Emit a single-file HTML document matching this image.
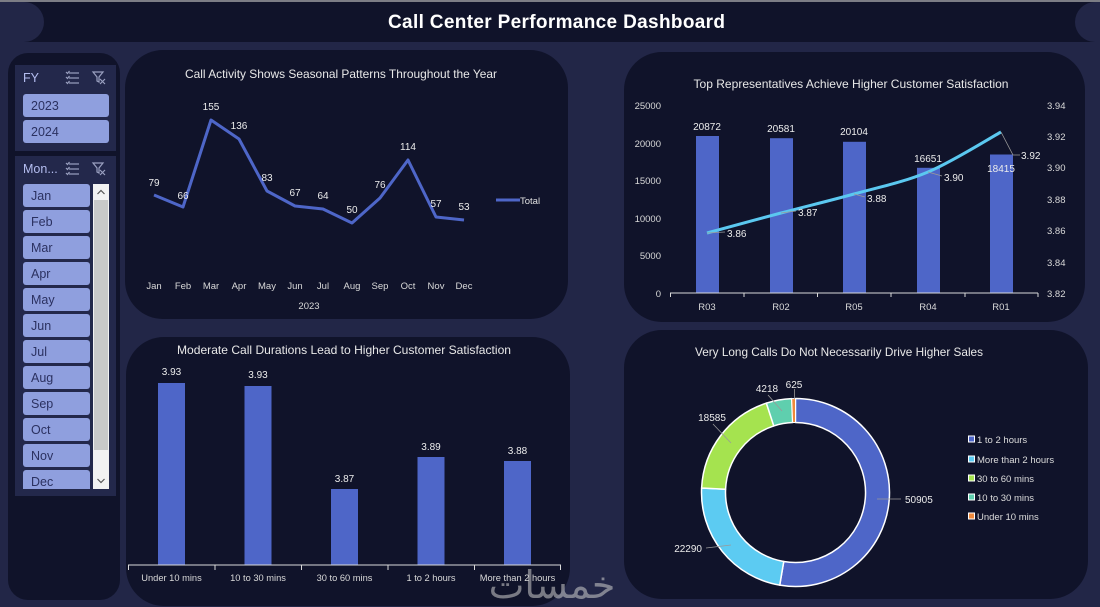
<!DOCTYPE html>
<html><head><meta charset="utf-8"><style>
html,body{margin:0;padding:0;background:#222647;}
svg{display:block;}
text{font-family:"Liberation Sans","DejaVu Sans",sans-serif;}
</style></head><body>
<svg width="1100" height="607" viewBox="0 0 1100 607" xmlns="http://www.w3.org/2000/svg">
<rect x="0" y="0" width="1100" height="607" fill="#222647"/>
<!-- top strip -->
<rect x="0" y="0" width="1100" height="2" fill="#7c7d85"/>
<!-- title bar -->
<rect x="0" y="2" width="1100" height="40" fill="#10132a"/>
<rect x="-20" y="2" width="64" height="40" rx="20" fill="#222647"/>
<rect x="1075" y="2" width="60" height="40" rx="20" fill="#222647"/>
<text x="556.5" y="28" text-anchor="middle" font-size="19" font-weight="bold" fill="#ffffff" textLength="337" lengthAdjust="spacing">Call Center Performance Dashboard</text>

<!-- left slicer panel -->
<rect x="8" y="53" width="112" height="547" rx="20" fill="#10132a"/>
<rect x="15" y="65" width="101" height="86" fill="#23284b"/>
<text x="23" y="82" font-size="12.5" fill="#b4bdf0">FY</text>
<g stroke="#9aa0c0" stroke-width="1.2" fill="none">
<line x1="69" y1="73" x2="79" y2="73"/><line x1="69" y1="78" x2="79" y2="78"/><line x1="69" y1="83" x2="79" y2="83"/>
<path d="M66 72 l1.5 1.5 l2 -2.5"/><path d="M66 77 l1.5 1.5 l2 -2.5"/><path d="M66 82 l1.5 1.5 l2 -2.5"/>
<path d="M93 72 h10 l-4 5 v5 l-2 -1 v-4 z"/><path d="M100 79 l5 5 M105 79 l-5 5"/>
</g>
<rect x="23" y="94" width="86" height="23" rx="3" fill="#8f9fde"/>
<text x="31" y="110" font-size="12.5" fill="#2b3160">2023</text>
<rect x="23" y="120" width="86" height="23" rx="3" fill="#8f9fde"/>
<text x="31" y="136" font-size="12.5" fill="#2b3160">2024</text>

<rect x="15" y="156" width="101" height="340" fill="#23284b"/>
<text x="23" y="173" font-size="12.5" fill="#b4bdf0">Mon...</text>
<g stroke="#9aa0c0" stroke-width="1.2" fill="none">
<line x1="69" y1="164" x2="79" y2="164"/><line x1="69" y1="169" x2="79" y2="169"/><line x1="69" y1="174" x2="79" y2="174"/>
<path d="M66 163 l1.5 1.5 l2 -2.5"/><path d="M66 168 l1.5 1.5 l2 -2.5"/><path d="M66 173 l1.5 1.5 l2 -2.5"/>
<path d="M93 163 h10 l-4 5 v5 l-2 -1 v-4 z"/><path d="M100 170 l5 5 M105 170 l-5 5"/>
</g>
<svg x="23" y="184" width="70" height="305" overflow="hidden">
<g font-size="12.5" fill="#2b3160">
<rect x="0" y="0" width="67" height="23" rx="3" fill="#8f9fde"/><text x="8" y="16">Jan</text>
<rect x="0" y="26" width="67" height="23" rx="3" fill="#8f9fde"/><text x="8" y="42">Feb</text>
<rect x="0" y="52" width="67" height="23" rx="3" fill="#8f9fde"/><text x="8" y="68">Mar</text>
<rect x="0" y="78" width="67" height="23" rx="3" fill="#8f9fde"/><text x="8" y="94">Apr</text>
<rect x="0" y="104" width="67" height="23" rx="3" fill="#8f9fde"/><text x="8" y="120">May</text>
<rect x="0" y="130" width="67" height="23" rx="3" fill="#8f9fde"/><text x="8" y="146">Jun</text>
<rect x="0" y="156" width="67" height="23" rx="3" fill="#8f9fde"/><text x="8" y="172">Jul</text>
<rect x="0" y="182" width="67" height="23" rx="3" fill="#8f9fde"/><text x="8" y="198">Aug</text>
<rect x="0" y="208" width="67" height="23" rx="3" fill="#8f9fde"/><text x="8" y="224">Sep</text>
<rect x="0" y="234" width="67" height="23" rx="3" fill="#8f9fde"/><text x="8" y="250">Oct</text>
<rect x="0" y="260" width="67" height="23" rx="3" fill="#8f9fde"/><text x="8" y="276">Nov</text>
<rect x="0" y="286" width="67" height="23" rx="3" fill="#8f9fde"/><text x="8" y="302">Dec</text>
</g>
</svg>
<!-- scrollbar -->
<rect x="93" y="184" width="16" height="305" fill="#f2f2f2"/>
<rect x="94" y="200" width="14" height="250" fill="#c9c9c9"/>
<path d="M97.5 194 l3.5 -3.5 l3.5 3.5" stroke="#555" stroke-width="1.2" fill="none"/>
<path d="M97.5 479 l3.5 3.5 l3.5 -3.5" stroke="#555" stroke-width="1.2" fill="none"/>

<!-- Panel 1: line chart -->
<rect x="125" y="50" width="443" height="269" rx="38" fill="#10132a"/>
<text x="341" y="78" text-anchor="middle" font-size="12" fill="#e8e8e8" textLength="312" lengthAdjust="spacingAndGlyphs">Call Activity Shows Seasonal Patterns Throughout the Year</text>
<polyline fill="none" stroke="#4e66c8" stroke-width="3" stroke-linejoin="round" points="154,195 183,207 211,120 239,139 267,191 295,206 323,209 352,223 380,198 408,160 436,217 464,220"/>
<g font-size="10" fill="#ececec" text-anchor="middle">
<text x="154" y="186">79</text><text x="183" y="199">66</text><text x="211" y="110">155</text><text x="239" y="129">136</text>
<text x="267" y="181">83</text><text x="295" y="196">67</text><text x="323" y="199">64</text><text x="352" y="213">50</text>
<text x="380" y="188">76</text><text x="408" y="150">114</text><text x="436" y="207">57</text><text x="464" y="210">53</text>
</g>
<g font-size="9.5" fill="#d9d9d9" text-anchor="middle">
<text x="154" y="289">Jan</text><text x="183" y="289">Feb</text><text x="211" y="289">Mar</text><text x="239" y="289">Apr</text>
<text x="267" y="289">May</text><text x="295" y="289">Jun</text><text x="323" y="289">Jul</text><text x="352" y="289">Aug</text>
<text x="380" y="289">Sep</text><text x="408" y="289">Oct</text><text x="436" y="289">Nov</text><text x="464" y="289">Dec</text>
<text x="309" y="309">2023</text>
</g>
<line x1="496" y1="200" x2="520" y2="200" stroke="#4e66c8" stroke-width="3"/>
<text x="520" y="204" font-size="9.5" fill="#e0e0e0">Total</text>

<!-- Panel 2: combo chart -->
<rect x="624" y="52" width="461" height="270" rx="38" fill="#10132a"/>
<text x="851" y="88" text-anchor="middle" font-size="12" fill="#e8e8e8" textLength="315" lengthAdjust="spacingAndGlyphs">Top Representatives Achieve Higher Customer Satisfaction</text>
<g font-size="9.5" fill="#d9d9d9" text-anchor="end">
<text x="661" y="109">25000</text><text x="661" y="147">20000</text><text x="661" y="184">15000</text>
<text x="661" y="222">10000</text><text x="661" y="259">5000</text><text x="661" y="297">0</text>
</g>
<g font-size="9.5" fill="#d9d9d9">
<text x="1047" y="109">3.94</text><text x="1047" y="140">3.92</text><text x="1047" y="171">3.90</text>
<text x="1047" y="203">3.88</text><text x="1047" y="234">3.86</text><text x="1047" y="266">3.84</text>
<text x="1047" y="297">3.82</text>
</g>
<g fill="#4e66c8">
<rect x="696" y="136" width="23" height="157"/>
<rect x="770" y="138.2" width="23" height="154.8"/>
<rect x="843" y="141.8" width="23" height="151.2"/>
<rect x="917" y="167.8" width="23" height="125.2"/>
<rect x="990" y="154.5" width="23" height="138.5"/>
</g>
<line x1="670" y1="293" x2="1038" y2="293" stroke="#d9d9d9" stroke-width="1"/>
<g stroke="#d9d9d9" stroke-width="1">
<line x1="670.5" y1="293" x2="670.5" y2="297"/><line x1="744" y1="293" x2="744" y2="297"/><line x1="817.5" y1="293" x2="817.5" y2="297"/>
<line x1="891" y1="293" x2="891" y2="297"/><line x1="965" y1="293" x2="965" y2="297"/><line x1="1038" y1="293" x2="1038" y2="297"/>
</g>
<g font-size="9.5" fill="#d9d9d9" text-anchor="middle">
<text x="707" y="310">R03</text><text x="781" y="310">R02</text><text x="854" y="310">R05</text><text x="928" y="310">R04</text><text x="1001" y="310">R01</text>
</g>
<g font-size="10" fill="#ececec" text-anchor="middle">
<text x="707" y="130">20872</text><text x="781" y="132">20581</text><text x="854" y="135">20104</text>
<text x="928" y="162">16651</text><text x="1001" y="172">18415</text>
</g>
<path d="M707,233 C719.3,229.7 756.5,219.5 781,213 C805.5,206.5 829.5,200.8 854,194 C878.5,187.2 903.5,182.3 928,172 C952.5,161.7 988.8,138.7 1001,132" fill="none" stroke="#5bc8f0" stroke-width="3"/>
<g stroke="#9a9a9a" stroke-width="0.8" fill="none">
<line x1="707" y1="233" x2="725" y2="232"/>
<line x1="781" y1="213" x2="796" y2="211"/>
<line x1="854" y1="194" x2="865" y2="197"/>
<line x1="928" y1="172" x2="942" y2="176"/>
<polyline points="1001,132 1013,155 1020,155"/>
</g>
<g font-size="10" fill="#ececec">
<text x="727" y="237">3.86</text><text x="798" y="216">3.87</text><text x="867" y="202">3.88</text>
<text x="944" y="181">3.90</text><text x="1021" y="159">3.92</text>
</g>

<!-- Panel 3: bar chart -->
<rect x="126" y="337" width="444" height="269" rx="38" fill="#10132a"/>
<text x="344" y="354" text-anchor="middle" font-size="12" fill="#e8e8e8" textLength="334" lengthAdjust="spacingAndGlyphs">Moderate Call Durations Lead to Higher Customer Satisfaction</text>
<g fill="#4e66c8">
<rect x="158" y="383" width="27" height="182"/>
<rect x="244.5" y="386" width="27" height="179"/>
<rect x="331" y="489" width="27" height="76"/>
<rect x="417.5" y="457" width="27" height="108"/>
<rect x="504" y="461" width="27" height="104"/>
</g>
<g font-size="10" fill="#ececec" text-anchor="middle">
<text x="171.5" y="375">3.93</text><text x="258" y="378">3.93</text><text x="344.5" y="482">3.87</text>
<text x="431" y="450">3.89</text><text x="517.5" y="454">3.88</text>
</g>
<line x1="128" y1="565" x2="561" y2="565" stroke="#d9d9d9" stroke-width="1"/>
<g stroke="#d9d9d9" stroke-width="1">
<line x1="128.5" y1="565" x2="128.5" y2="570"/><line x1="215" y1="565" x2="215" y2="570"/><line x1="301.5" y1="565" x2="301.5" y2="570"/>
<line x1="388" y1="565" x2="388" y2="570"/><line x1="474.5" y1="565" x2="474.5" y2="570"/><line x1="560.5" y1="565" x2="560.5" y2="570"/>
</g>
<g font-size="9.3" fill="#d9d9d9" text-anchor="middle">
<text x="171.5" y="581">Under 10 mins</text><text x="258" y="581">10 to 30 mins</text><text x="344.5" y="581">30 to 60 mins</text>
<text x="431" y="581">1 to 2 hours</text><text x="517.5" y="581">More than 2 hours</text>
</g>
<text x="552" y="598" text-anchor="middle" font-size="38" font-family="DejaVu Sans, sans-serif" fill="#cfcfcf" opacity="0.55">خمسات</text>

<!-- Panel 4: donut -->
<rect x="624" y="330" width="464" height="269" rx="38" fill="#10132a"/>
<text x="839" y="356" text-anchor="middle" font-size="12" fill="#e8e8e8" textLength="288" lengthAdjust="spacingAndGlyphs">Very Long Calls Do Not Necessarily Drive Higher Sales</text>
<g stroke="#ffffff" stroke-width="1.5" stroke-linejoin="round">
<path d="M795.5,398.5 A94,94 0 1 1 779.73,585.17 L783.75,561.5 A70,70 0 1 0 795.5,422.5 Z" fill="#4e66c8"/>
<path d="M779.73,585.17 A94,94 0 0 1 701.61,488.06 L725.58,489.19 A70,70 0 0 0 783.75,561.5 Z" fill="#5ccbf2"/>
<path d="M701.61,488.06 A94,94 0 0 1 766.37,403.13 L773.81,425.94 A70,70 0 0 0 725.58,489.19 Z" fill="#a5e34f"/>
<path d="M766.37,403.13 A94,94 0 0 1 791.68,398.58 L792.65,422.56 A70,70 0 0 0 773.81,425.94 Z" fill="#5fcfae"/>
<path d="M791.68,398.58 A94,94 0 0 1 795.5,398.5 L795.5,422.5 A70,70 0 0 0 792.65,422.56 Z" fill="#f08a3c" stroke-width="1"/>
</g>
<g stroke="#9a9a9a" stroke-width="0.8" fill="none">
<line x1="877" y1="499" x2="901" y2="499"/>
<line x1="706" y1="548" x2="731" y2="545"/>
<line x1="713" y1="424" x2="731" y2="443"/>
<line x1="768" y1="395" x2="782" y2="411"/>
<line x1="794.5" y1="389" x2="794.5" y2="399"/>
</g>
<g font-size="10" fill="#ececec">
<text x="905" y="503">50905</text>
<text x="702" y="552" text-anchor="end">22290</text>
<text x="712" y="421" text-anchor="middle">18585</text>
<text x="767" y="392" text-anchor="middle">4218</text>
<text x="794" y="388" text-anchor="middle">625</text>
</g>
<g stroke="#ffffff" stroke-width="1">
<rect x="968.5" y="436" width="6" height="6" fill="#4e66c8"/>
<rect x="968.5" y="456" width="6" height="6" fill="#5ccbf2"/>
<rect x="968.5" y="475" width="6" height="6" fill="#a5e34f"/>
<rect x="968.5" y="494" width="6" height="6" fill="#5fcfae"/>
<rect x="968.5" y="513" width="6" height="6" fill="#f08a3c"/>
</g>
<g font-size="9.5" fill="#dcdcdc">
<text x="977" y="443">1 to 2 hours</text>
<text x="977" y="463">More than 2 hours</text>
<text x="977" y="482">30 to 60 mins</text>
<text x="977" y="501">10 to 30 mins</text>
<text x="977" y="520">Under 10 mins</text>
</g>
</svg>
</body></html>
